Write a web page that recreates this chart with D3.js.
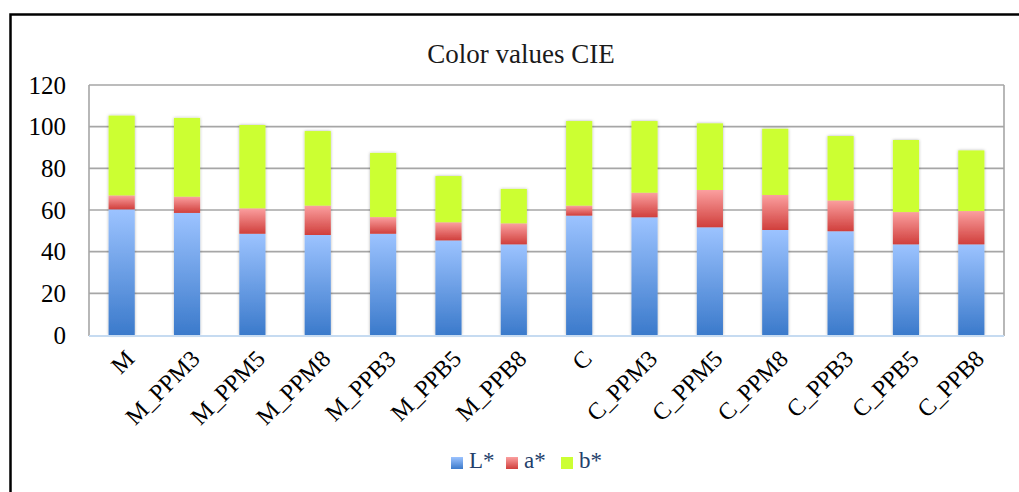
<!DOCTYPE html>
<html>
<head>
<meta charset="utf-8">
<script src="https://cdn.jsdelivr.net/npm/d3@7"></script>
<style>
  body { margin: 0; background: #fff; }
  svg { display: block; font-family: "Liberation Serif", "DejaVu Serif", serif; }
</style>
</head>
<body>
<svg id="chart" width="1019" height="492"></svg>
<script>
const categories = ["M", "M_PPM3", "M_PPM5", "M_PPM8", "M_PPB3", "M_PPB5", "M_PPB8",
  "C", "C_PPM3", "C_PPM5", "C_PPM8", "C_PPB3", "C_PPB5", "C_PPB8"];
const Lvals = [60.3, 58.6, 48.6, 48.0, 48.6, 45.4, 43.5, 57.3, 56.5, 51.7, 50.4, 49.8, 43.5, 43.5];
const avals = [6.7, 7.8, 12.2, 14.1, 8.0, 8.7, 10.1, 4.8, 11.8, 17.9, 16.8, 14.8, 15.5, 16.0];
const bvals = [38.3, 37.8, 40.0, 35.8, 30.8, 22.2, 16.5, 40.6, 34.4, 32.0, 31.8, 30.9, 34.6, 29.1];
const seriesNames = ["L*", "a*", "b*"];
const yTicks = [0, 20, 40, 60, 80, 100, 120];

const svg = d3.select("#chart");

// outer frame
svg.append("rect")
  .attr("x", 10.5).attr("y", 14.5)
  .attr("width", 1030).attr("height", 500)
  .attr("fill", "none").attr("stroke", "#000").attr("stroke-width", 2.5);

// gradients + shadow
const defs = svg.append("defs");
function grad(id, top, bottom) {
  const g = defs.append("linearGradient").attr("id", id)
    .attr("x1", 0).attr("y1", 0).attr("x2", 0).attr("y2", 1);
  g.append("stop").attr("offset", "0%").attr("stop-color", top);
  g.append("stop").attr("offset", "100%").attr("stop-color", bottom);
}
grad("gL", "#9cc3ff", "#3b7acb");
grad("gA", "#fb9f9f", "#d03f3c");
grad("gB", "#ccff33", "#ccff33");
defs.append("filter").attr("id", "shadow")
  .attr("x", "-30%").attr("y", "-10%").attr("width", "160%").attr("height", "120%")
  .append("feDropShadow")
  .attr("dx", 0).attr("dy", 0).attr("stdDeviation", 1.6)
  .attr("flood-color", "#000").attr("flood-opacity", 0.3);

const x = d3.scaleBand().domain(categories).range([89, 1004])
  .paddingInner(0.6).paddingOuter(0.3);
const y = d3.scaleLinear().domain([0, 120]).range([335, 85]);

// gridlines
svg.append("g").selectAll("line")
  .data(yTicks.filter(d => d > 0))
  .join("line")
  .attr("x1", 89).attr("x2", 1004)
  .attr("y1", d => y(d)).attr("y2", d => y(d))
  .attr("stroke", "#a6a6a6").attr("stroke-width", 1.6);

// plot frame (right + left)
svg.append("line").attr("x1", 1004).attr("x2", 1004).attr("y1", 85).attr("y2", 336)
  .attr("stroke", "#a6a6a6").attr("stroke-width", 1.6);
svg.append("line").attr("x1", 89).attr("x2", 89).attr("y1", 85).attr("y2", 336)
  .attr("stroke", "#a6a6a6").attr("stroke-width", 1.6);

// stacked bars
const rows = categories.map((c, i) => ({ cat: c, "L*": Lvals[i], "a*": avals[i], "b*": bvals[i] }));
const stack = d3.stack().keys(seriesNames)(rows);
const fills = { "L*": "url(#gL)", "a*": "url(#gA)", "b*": "url(#gB)" };

svg.append("g").attr("filter", "url(#shadow)")
  .selectAll("g")
  .data(stack)
  .join("g")
  .attr("fill", d => fills[d.key])
  .selectAll("rect")
  .data(d => d)
  .join("rect")
  .attr("x", d => x(d.data.cat))
  .attr("width", x.bandwidth())
  .attr("y", d => y(d[1]))
  .attr("height", d => y(d[0]) - y(d[1]));

// x axis baseline
svg.append("line").attr("x1", 89).attr("x2", 1004).attr("y1", 336).attr("y2", 336)
  .attr("stroke", "#c6dbf1").attr("stroke-width", 2);

// y tick labels
svg.append("g").selectAll("text")
  .data(yTicks)
  .join("text")
  .attr("x", 66).attr("y", d => y(d))
  .attr("dy", "0.35em")
  .attr("text-anchor", "end")
  .attr("font-size", 25)
  .attr("fill", "#000")
  .text(d => d);

// x labels
svg.append("g").selectAll("text")
  .data(categories)
  .join("text")
  .attr("transform", d => `translate(${x(d) + x.bandwidth() / 2 + 4}, 350) rotate(-45)`)
  .attr("text-anchor", "end")
  .attr("dy", "0.6em")
  .attr("font-size", 24)
  .attr("fill", "#000")
  .text(d => d);

// title
svg.append("text")
  .attr("x", 521).attr("y", 63)
  .attr("text-anchor", "middle")
  .attr("font-size", 27)
  .attr("fill", "#1a1a1a")
  .text("Color values CIE");

// legend
const legendX = [451, 506, 561];
const lg = svg.append("g").selectAll("g")
  .data(seriesNames)
  .join("g")
  .attr("transform", (d, i) => `translate(${legendX[i]}, 457)`);
lg.append("rect").attr("width", 12).attr("height", 12)
  .attr("fill", d => fills[d]);
lg.append("text")
  .attr("x", 18).attr("y", 11)
  .attr("font-size", 23)
  .attr("fill", "#243f6b")
  .text(d => d);
</script>
</body>
</html>
